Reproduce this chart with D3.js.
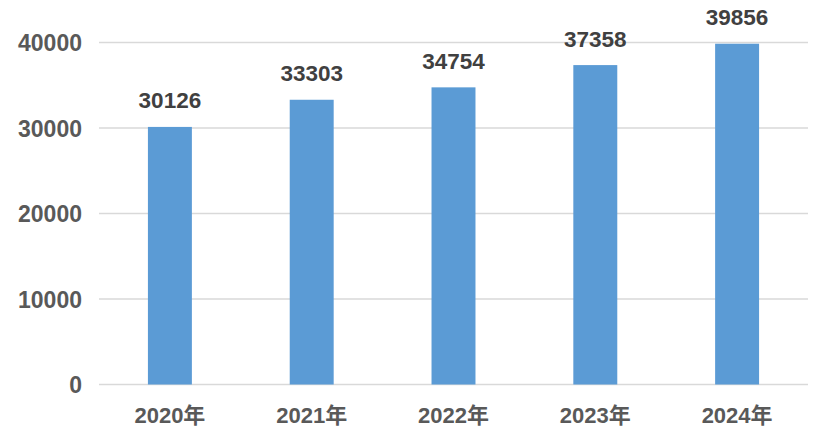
<!DOCTYPE html>
<html><head><meta charset="utf-8">
<script src="https://cdn.jsdelivr.net/npm/d3@7"></script>
<style>body{margin:0;background:#fff}svg{display:block}</style>
</head><body>
<svg id="c" width="830" height="446"></svg>
<script>
const categories = ["2020年","2021年","2022年","2023年","2024年"];
const values = [30126, 33303, 34754, 37358, 39856];
const yTicks = [0, 10000, 20000, 30000, 40000];

const svg = d3.select("#c");
const font = "'Liberation Sans', Arial, Helvetica, 'Noto Sans CJK SC', sans-serif";
const x = d3.scaleBand().domain(categories).range([99, 808]).paddingInner(0.69).paddingOuter(0.345);
const y = d3.scaleLinear().domain([0, 40000]).range([384.5, 42.5]);

const grid = svg.append("g");
grid.selectAll("line").data(yTicks).join("line")
  .attr("x1", 99).attr("x2", 808)
  .attr("y1", d => y(d)).attr("y2", d => y(d))
  .attr("stroke", "#d9d9d9").attr("stroke-width", 1.5);

const yAxis = svg.append("g").attr("transform", "translate(82,0)")
  .call(d3.axisLeft(y).tickValues(yTicks).tickSize(0).tickPadding(0).tickFormat(d3.format("d")));
yAxis.select(".domain").remove();
yAxis.selectAll("text").attr("font-family", font).attr("font-size", 23).attr("font-weight", "bold")
  .attr("fill", "#595959").attr("dy", "0.36em");

svg.append("g").selectAll("rect").data(values).join("rect")
  .attr("x", (d, i) => x(categories[i])).attr("width", x.bandwidth())
  .attr("y", d => y(d)).attr("height", d => y(0) - y(d))
  .attr("fill", "#5b9bd5");

svg.append("g").selectAll("text").data(values).join("text")
  .attr("x", (d, i) => x(categories[i]) + x.bandwidth() / 2)
  .attr("y", d => y(d) - 18.5)
  .attr("text-anchor", "middle")
  .attr("font-family", font).attr("font-size", 22.5).attr("font-weight", "bold")
  .attr("fill", "#404040").text(d => d);

const xAxis = svg.append("g").attr("transform", "translate(0,384.5)")
  .call(d3.axisBottom(x).tickSize(0).tickPadding(0));
xAxis.select(".domain").remove();
xAxis.selectAll("text").attr("font-family", font).attr("font-size", 22).attr("font-weight", "bold")
  .attr("fill", "#595959").attr("dy", null).attr("y", 38.5);
</script>
</body></html>
